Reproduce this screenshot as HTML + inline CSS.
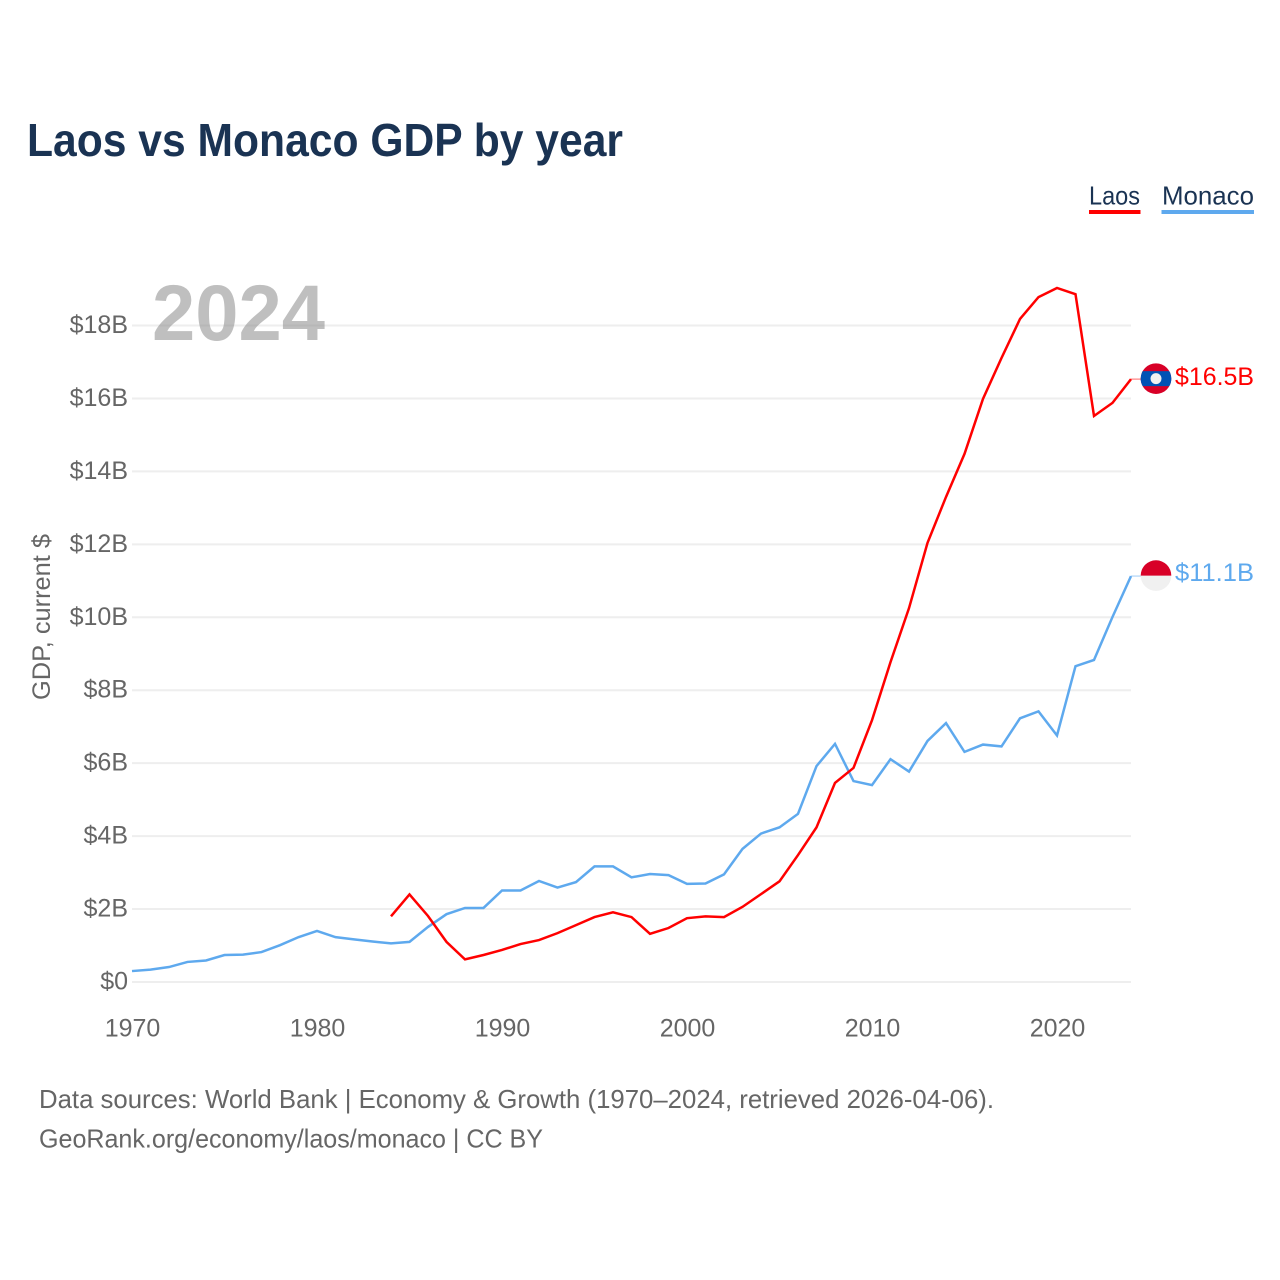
<!DOCTYPE html>
<html lang="en">
<head>
<meta charset="utf-8">
<title>Laos vs Monaco GDP by year</title>
<style>
html,body{margin:0;padding:0;background:#fff;}
svg{display:block;}
text{font-family:"Liberation Sans",sans-serif;}
</style>
</head>
<body>
<svg id="chart" width="1280" height="1280" viewBox="0 0 1280 1280" xmlns="http://www.w3.org/2000/svg">
  <rect x="0" y="0" width="1280" height="1280" fill="#fff"/>
  <text x="27" y="156" font-size="46" font-weight="700" fill="#1a3353" textLength="596" lengthAdjust="spacingAndGlyphs">Laos vs Monaco GDP by year</text>

  <g>
    <text x="1089" y="204.500" font-size="26" fill="#1a3353" textLength="51" lengthAdjust="spacingAndGlyphs">Laos</text>
    <rect x="1089" y="210" width="51.5" height="4" fill="#ff0000"/>
  </g>
  <g>
    <text x="1162" y="204.500" font-size="26" fill="#1a3353" textLength="92" lengthAdjust="spacingAndGlyphs">Monaco</text>
    <rect x="1161.500" y="210" width="92.5" height="4" fill="#5ea9ee"/>
  </g>

  <g id="grid"></g>
  <g id="yticks"></g>
  <g id="xticks"></g>

  <text transform="translate(50,617) rotate(-90)" text-anchor="middle" font-size="25" fill="#666" textLength="166" lengthAdjust="spacingAndGlyphs">GDP, current $</text>

  <text x="152" y="340" font-size="79" font-weight="700" fill="#808080" fill-opacity="0.5" textLength="173" lengthAdjust="spacingAndGlyphs">2024</text>

  <g id="series"></g>
  <g id="ends"></g>

  <text x="39" y="1108" font-size="26" fill="#666" textLength="955" lengthAdjust="spacingAndGlyphs">Data sources: World Bank | Economy &amp; Growth (1970–2024, retrieved 2026-04-06).</text>
  <text x="39" y="1147.500" font-size="26" fill="#666" textLength="504" lengthAdjust="spacingAndGlyphs">GeoRank.org/economy/laos/monaco | CC BY</text>
</svg>
<script>
const monacoStartYear = 1970;
const laosStartYear = 1984;
const monacoValues = [0.30,0.34,0.41,0.55,0.59,0.74,0.75,0.82,1.01,1.23,1.40,1.23,1.17,1.11,1.06,1.10,1.51,1.86,2.03,2.03,2.51,2.51,2.77,2.59,2.74,3.17,3.17,2.87,2.96,2.93,2.69,2.70,2.95,3.65,4.07,4.24,4.61,5.92,6.53,5.51,5.40,6.11,5.77,6.61,7.10,6.31,6.51,6.46,7.23,7.42,6.76,8.66,8.83,10.01,11.13];
const laosValues = [1.80,2.40,1.81,1.10,0.62,0.74,0.88,1.04,1.15,1.34,1.56,1.78,1.91,1.78,1.32,1.48,1.75,1.80,1.78,2.06,2.41,2.76,3.48,4.24,5.46,5.87,7.18,8.77,10.25,12.04,13.30,14.48,15.99,17.11,18.18,18.78,19.03,18.86,15.52,15.88,16.53];
const yTickValues = [0,2,4,6,8,10,12,14,16,18];
const xTickYears = [1970,1980,1990,2000,2010,2020];

const NS = 'http://www.w3.org/2000/svg';
const xScale = year => 132 + (year - 1970) * 18.5;
const yScale = value => 982 - value * 36.47;
const make = (tag, parent) => {
  const el = document.createElementNS(NS, tag);
  parent.appendChild(el);
  return el;
};
const setAll = (el, attrs) => {
  for (const k in attrs) el.setAttribute(k, attrs[k]);
};

const grid = document.getElementById('grid');
const yticks = document.getElementById('yticks');
const xticks = document.getElementById('xticks');
const series = document.getElementById('series');
const ends = document.getElementById('ends');

yTickValues.forEach(v => {
  const line = make('line', grid);
  
  
  setAll(line, {x1: 132, x2: 1131, y1: yScale(v), y2: yScale(v), stroke: '#eeeeee', 'stroke-width': 2});
  const t = make('text', yticks);
  
  
  setAll(t, {x: 128, y: yScale(v) + 7.5, 'text-anchor': 'end', 'font-size': 25, fill: '#666'});
  t.textContent = '$' + v + (v === 0 ? '' : 'B');
});

xTickYears.forEach(yr => {
  const t = make('text', xticks);
  
  
  setAll(t, {x: xScale(yr) + 0.5, y: 1036.5, 'text-anchor': 'middle', 'font-size': 25, fill: '#666'});
  t.textContent = yr;
});

function drawLine(values, startYear, color) {
  const pts = values.map((v, i) => xScale(startYear + i).toFixed(2) + ',' + yScale(v).toFixed(2));
  const line = make('polyline', series);
  setAll(line, {points: pts.join(' '), fill: 'none', stroke: color, 'stroke-width': 2.5, 'stroke-linejoin': 'miter'});
  return line;
}
const monacoLine = drawLine(monacoValues, monacoStartYear, '#5ea9ee');


const laosLine = drawLine(laosValues, laosStartYear, '#ff0000');



function lastPoint(values, startYear) {
  const i = values.length - 1;
  return {x: xScale(startYear + i), y: yScale(values[i]), v: values[i]};
}

/* Laos end marker */
const lp = lastPoint(laosValues, laosStartYear);
const lc = make('line', ends);


setAll(lc, {x1: lp.x, x2: lp.x + 10, y1: lp.y, y2: lp.y, stroke: '#ff0000', 'stroke-opacity': 0.4, 'stroke-width': 1.5});
const lf = make('g', ends);


const lfy = lp.y - 0.5;
const lfBase = make('circle', lf);
setAll(lfBase, {cx: 1156, cy: lfy, r: 15.3, fill: '#d80027'});
const lfClip = make('clipPath', lf);
lfClip.setAttribute('id', 'laos-clip');
setAll(make('circle', lfClip), {cx: 1156, cy: lfy, r: 15.3});
const lfBand = make('rect', lf);
setAll(lfBand, {x: 1140, y: lfy - 7.5, width: 32, height: 15, fill: '#0052b4', 'clip-path': 'url(#laos-clip)'});
setAll(make('circle', lf), {cx: 1156, cy: lfy, r: 5.5, fill: '#f0f0f0'});
const lv = make('text', ends);


setAll(lv, {x: 1175, y: lp.y + 6, 'font-size': 25, fill: '#ff0000', textLength: 79, lengthAdjust: 'spacingAndGlyphs'});
lv.textContent = '$' + lp.v.toFixed(1) + 'B';

/* Monaco end marker */
const mp = lastPoint(monacoValues, monacoStartYear);
const mc = make('line', ends);


setAll(mc, {x1: mp.x, x2: mp.x + 10, y1: mp.y, y2: mp.y, stroke: '#5ea9ee', 'stroke-opacity': 0.4, 'stroke-width': 1.5});
const mf = make('g', ends);


const mfy = mp.y - 0.5;
setAll(make('circle', mf), {cx: 1156, cy: mfy, r: 15.3, fill: '#f0f0f0'});
const mTop = make('path', mf);
mTop.setAttribute('d', 'M1140.7 ' + mfy + 'A15.3 15.3 0 0 1 1171.3 ' + mfy + 'Z');
mTop.setAttribute('fill', '#d80027');
const mv = make('text', ends);


setAll(mv, {x: 1175, y: mp.y + 5, 'font-size': 25, fill: '#5ea9ee', textLength: 79, lengthAdjust: 'spacingAndGlyphs'});
mv.textContent = '$' + mp.v.toFixed(1) + 'B';
</script>
</body>
</html>
